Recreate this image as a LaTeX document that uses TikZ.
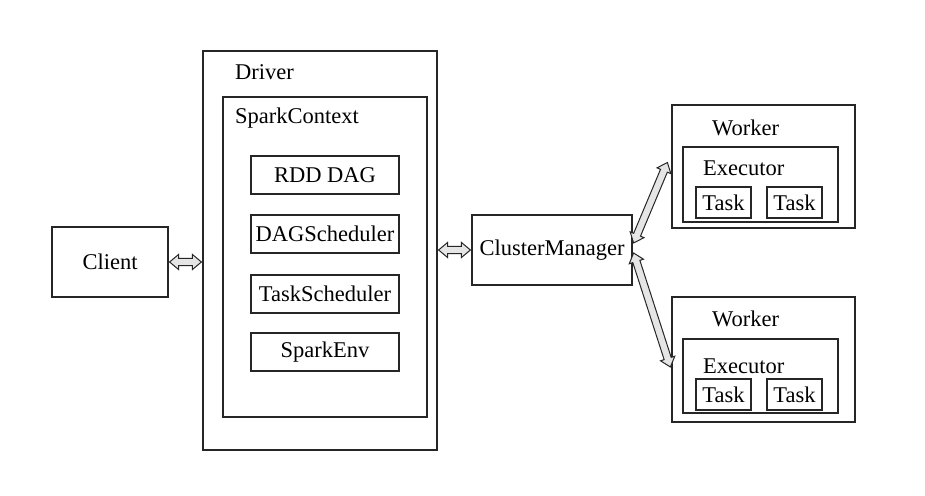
\documentclass[tikz,border=0pt]{standalone}
\usepackage{fontspec}
\setmainfont{Liberation Serif}
\usetikzlibrary{arrows.meta,calc,shapes.arrows}
\begin{document}
\begin{tikzpicture}[x=1pt,y=1pt,
  box/.style={draw=black!85, line width=1.2pt, minimum width=#1, inner sep=0pt},
  lbl/.style={anchor=west, inner sep=0pt, font=\fontsize{22.5}{27}\selectfont},
  darrow/.style={double arrow, draw=black!85, line width=1pt, fill=gray!20, inner xsep=0pt, inner ysep=3.2pt,
     double arrow head extend=3.8pt, double arrow head indent=0pt,
     double arrow tip angle=80, sloped, anchor=center},
  font=\fontsize{22.5}{27}\selectfont]
\useasboundingbox[fill=white] (0,0) rectangle (925,495);
% Client
\node[box=116pt, minimum height=70pt] (client) at (110,233) {Client};
% Driver
\node[box=234pt, minimum height=399pt] (driver) at (320,244.5) {};
\node[lbl] (driverlbl) at (235,423) {Driver};
\node[box=204pt, minimum height=320pt] (sc) at (325,238) {};
\node[lbl] (sclbl) at (235,377) {SparkContext};
\node[box=148pt, minimum height=38pt] (rdd) at (325,320) {RDD DAG};
\node[box=148pt, minimum height=38pt] (dags) at (325,261) {DAGScheduler};
\node[box=148pt, minimum height=38pt] (tasks) at (325,201) {TaskScheduler};
\node[box=148pt, minimum height=38pt] (env) at (325,143) {SparkEnv};
% Cluster manager
\node[box=160pt, minimum height=70pt] (cm) at (552,245) {ClusterManager};
% Worker 1
\node[box=183pt, minimum height=123pt] (w1) at (763.5,328.5) {};
\node[lbl] (w1lbl) at (712,367) {Worker};
\node[box=155pt, minimum height=75pt] (e1) at (760.5,310.5) {};
\node[lbl] (e1lbl) at (703,327) {Executor};
\node[box=55pt, minimum height=31pt] (t11) at (723.5,292.5) {Task};
\node[box=55pt, minimum height=31pt] (t12) at (794.5,292.5) {Task};
% Worker 2
\node[box=183pt, minimum height=125pt] (w2) at (763.5,135.5) {};
\node[lbl] (w2lbl) at (712,176) {Worker};
\node[box=155pt, minimum height=74pt] (e2) at (760.5,119) {};
\node[lbl] (e2lbl) at (703,129) {Executor};
\node[box=55pt, minimum height=31pt] (t21) at (723.5,100.5) {Task};
\node[box=55pt, minimum height=31pt] (t22) at (794.5,100.5) {Task};
% Connector end points
\coordinate (a1) at ([xshift=1pt]client.east);
\coordinate (b1) at ([xshift=-1pt]client.east -| driver.west);
\coordinate (a2) at ([xshift=1pt]driver.east |- cm.west);
\coordinate (b2) at ([xshift=-1pt]cm.west);
\coordinate (a3) at ([xshift=1pt,yshift=7pt]cm.east);
\coordinate (b3) at ([xshift=-4pt,yshift=4pt]w1.west);
\coordinate (a4) at ([xshift=1pt,yshift=-3pt]cm.east);
\coordinate (b4) at ([xshift=-1pt,yshift=-7.5pt]w2.west);
% Connectors
\path let \p1=($(b1)-(a1)$), \n1={veclen(\x1,\y1)} in (a1) -- node[darrow, minimum height=\n1] (arr1) {} (b1);
\path let \p1=($(b2)-(a2)$), \n1={veclen(\x1,\y1)} in (a2) -- node[darrow, minimum height=\n1] (arr2) {} (b2);
\path let \p1=($(b3)-(a3)$), \n1={veclen(\x1,\y1)} in (a3) -- node[darrow, minimum height=\n1] (arr3) {} (b3);
\path let \p1=($(b4)-(a4)$), \n1={veclen(\x1,\y1)} in (a4) -- node[darrow, minimum height=\n1] (arr4) {} (b4);
\end{tikzpicture}
\end{document}
